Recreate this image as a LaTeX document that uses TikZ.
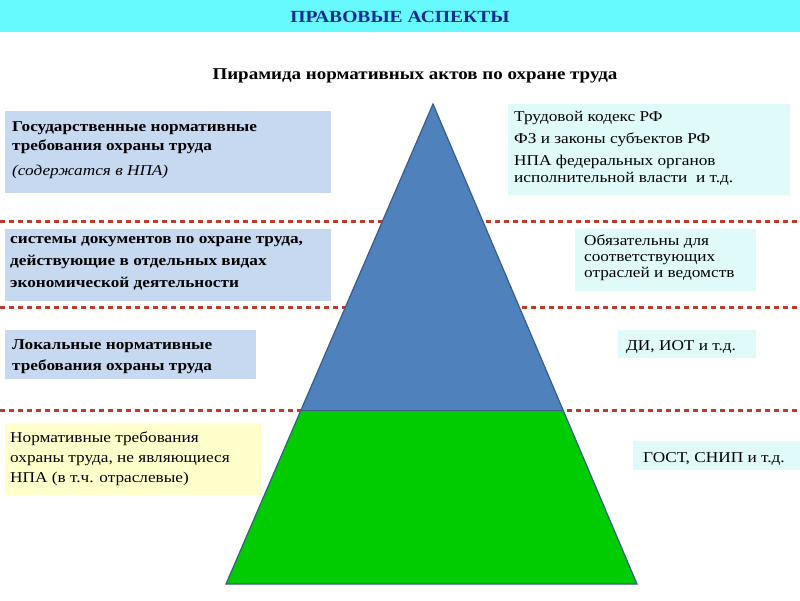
\documentclass[tikz,border=0pt]{standalone}
\usepackage{fontspec}
\setmainfont[FakeStretch=1.15]{Liberation Serif}
\definecolor{pblue}{RGB}{79,129,189}
\definecolor{pgreen}{RGB}{0,204,0}
\definecolor{pedge}{RGB}{56,93,138}
\definecolor{lb}{RGB}{198,217,241}
\definecolor{rc}{RGB}{224,250,250}
\definecolor{ly}{RGB}{255,255,204}
\definecolor{hdr}{RGB}{102,250,255}
\definecolor{ttl}{RGB}{20,40,150}
\definecolor{sepc}{RGB}{192,60,40}
\begin{document}
\begin{tikzpicture}[x=1pt,y=-1pt,
 txt/.style={anchor=north west,align=left,font=\fontsize{15}{19}\selectfont,inner sep=0},
 sep/.style={draw=sepc,line width=3pt,dash pattern=on 5pt off 4pt}]
\fill[white] (0,0) rectangle (800,600);
\useasboundingbox (0,0) rectangle (800,600);
\fill[hdr] (0,0) rectangle (800,32);
\node (title) at (400,17) {\fontsize{17}{20}\selectfont\bfseries\color{ttl}ПРАВОВЫЕ АСПЕКТЫ};
\node (sub) at (415,76) {\fontsize{16.5}{19}\selectfont\bfseries Пирамида нормативных актов по охране труда};
\foreach \y in {221,307,410} \draw[sep] (0,\y) -- (800,\y);
\coordinate (A) at (433,104);
\coordinate (BL) at (226,584);
\coordinate (BR) at (637,584);
\coordinate (GL) at (301,410);
\coordinate (GR) at (563,410);
\fill[pblue] (A) -- (GL) -- (GR) -- cycle;
\fill[pgreen] (GL) -- (BL) -- (BR) -- (GR) -- cycle;
\draw[line width=1.2pt,pedge] (A) -- (BL) -- (BR) -- cycle;
\draw[line width=1pt,pedge] (GL) -- (GR);
\fill[lb] (5,111) rectangle (331,193);
\fill[lb] (5,229) rectangle (331,301);
\fill[lb] (5,330) rectangle (256,379);
\fill[ly] (5,423) rectangle (261,495);
\fill[rc] (508,104) rectangle (790,195);
\fill[rc] (575,229) rectangle (756,291);
\fill[rc] (618,330) rectangle (756,358);
\fill[rc] (633,441) rectangle (800,470);
\node[txt] (l1) at (12,121) {\bfseries Государственные нормативные\\\bfseries требования охраны труда\\[6pt]\itshape (содержатся в НПА)};
\node[txt,font=\fontsize{15}{22}\selectfont] (l2) at (10,236) {\bfseries системы документов по охране труда,\\\bfseries действующие в отдельных видах\\\bfseries экономической деятельности};
\node[txt,font=\fontsize{15}{21}\selectfont] (l3) at (12,339) {\bfseries Локальные нормативные\\\bfseries требования охраны труда};
\node[txt,font=\fontsize{15}{20}\selectfont] (l4) at (10,432) {Нормативные требования\\охраны труда, не являющиеся\\НПА (в т.ч. отраслевые)};
\node[txt,font=\fontsize{15}{17}\selectfont] (r1) at (514,111) {Трудовой кодекс РФ\\[5pt]ФЗ и законы субъектов РФ\\[5pt]НПА федеральных органов\\исполнительной власти \ и т.д.};
\node[txt,font=\fontsize{15}{16}\selectfont] (r2) at (584,235) {Обязательны для\\соответствующих\\отраслей и ведомств};
\node[txt] (r3) at (626,340) {ДИ, ИОТ и т.д.};
\node[txt] (r4) at (643,452) {ГОСТ, СНИП и т.д.};
\end{tikzpicture}
\end{document}
